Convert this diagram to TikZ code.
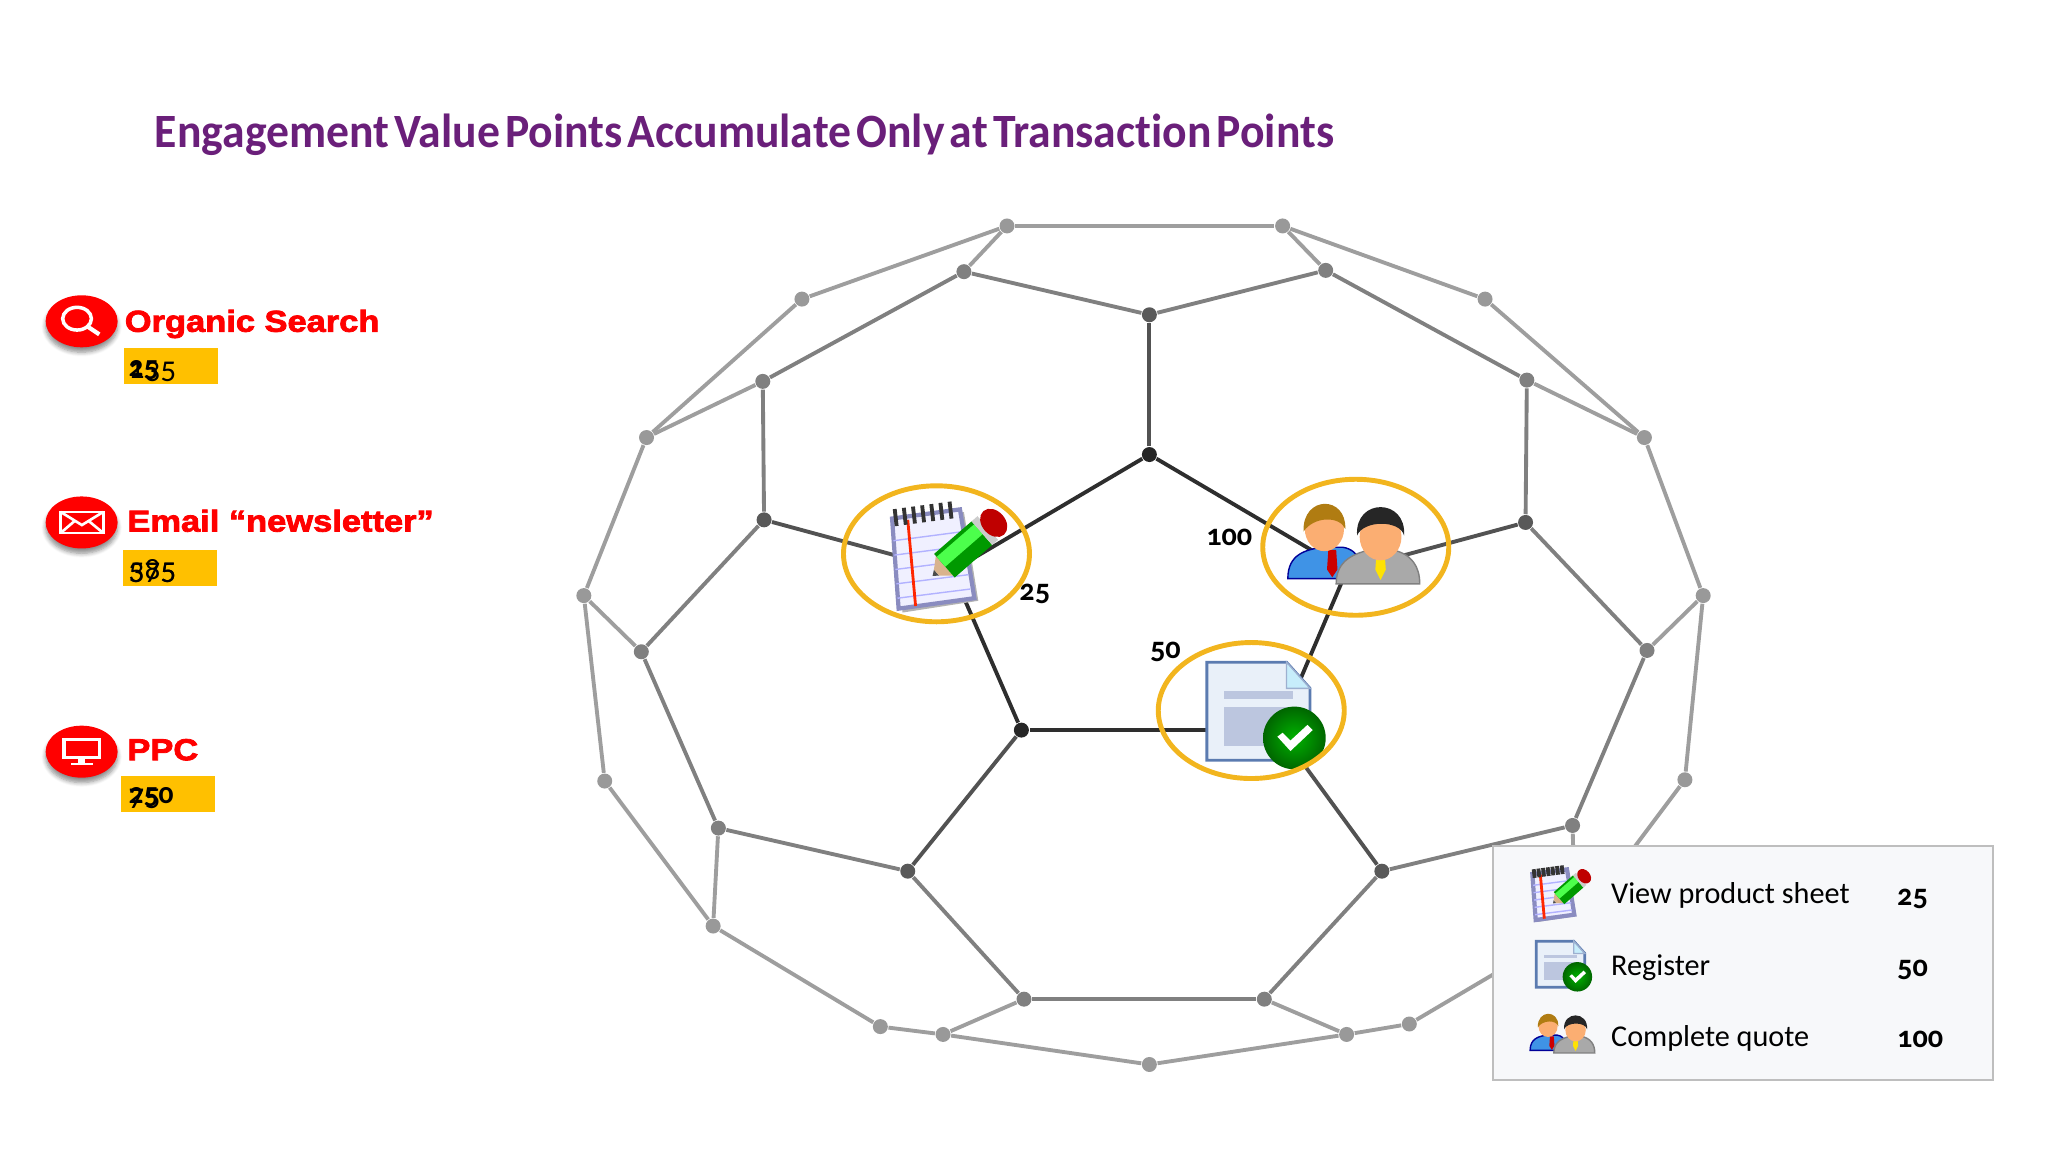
\documentclass[tikz,border=0pt]{standalone}
\usepackage{fontspec}
\setmainfont{Carlito}[Numbers=OldStyle]
\newfontfamily\titlefont{Carlito Bold}[FakeStretch=0.955,WordSpace=0.5,Ligatures=NoCommon]
\newfontfamily\heavyfont{Liberation Sans Bold}[FakeBold=2.6,FakeStretch=1.14]
\usetikzlibrary{shapes.geometric,shadows.blur}

\definecolor{titlepurple}{HTML}{6A1F7A}
\definecolor{ringyellow}{HTML}{F2B51E}
\definecolor{boxyellow}{HTML}{FFC000}
\definecolor{iconred}{HTML}{FF0000}
\definecolor{legendfill}{HTML}{F7F8FA}
\definecolor{legendline}{HTML}{BEBEBE}
\definecolor{skin}{HTML}{FBAE72}
\definecolor{suitblue}{HTML}{3F93E6}
\definecolor{suitgray}{HTML}{A9A9A9}
\definecolor{hairbrown}{HTML}{B07C12}
\definecolor{docbar}{HTML}{BCC6DF}
\definecolor{docedge}{HTML}{5B7BB0}
\definecolor{docfill}{HTML}{E9F0F9}
\definecolor{nbedge}{HTML}{8A8CC0}

\tikzset{
    edgeA/.style={draw=black!82,line width=1.1pt},
    edgeB/.style={draw=black!68,line width=1.1pt},
    edgeC/.style={draw=black!50,line width=1.1pt},
    edgeD/.style={draw=black!38,line width=1.1pt},
    vert/.style={circle,inner sep=0pt,minimum size=0.15cm},
    hilite/.style={ellipse,draw=ringyellow,line width=1.4pt,inner sep=0pt,minimum width=1.86cm,minimum height=1.36cm},
    redicon/.style={ellipse,fill=iconred,inner sep=0pt,minimum width=0.72cm,minimum height=0.52cm,
        blur shadow={shadow blur steps=6,shadow xshift=0pt,shadow yshift=-1.4pt,shadow blur radius=1.2pt,shadow opacity=45}},
    iconline/.style={draw=white,line width=0.75pt},
    sourcelabel/.style={anchor=base west,inner sep=0pt,text=iconred,font=\heavyfont\fontsize{8.6}{10}\selectfont},
    scorebox/.style={fill=boxyellow,inner sep=0pt,minimum width=0.94cm,minimum height=0.36cm},
    scoretext/.style={anchor=base west,inner sep=0pt,font=\fontsize{8.9}{10}\selectfont},
    scorebold/.style={scoretext,font=\bfseries\fontsize{8.4}{10}\selectfont},
    pointlabel/.style={anchor=base west,inner sep=0pt,font=\bfseries\fontsize{8.6}{10}\selectfont},
    legendtext/.style={anchor=base west,inner sep=0pt,font=\fontsize{8.6}{10}\selectfont},
    pics/notebook/.style={code={
        \fill[black!30] (-27,-29) -- (26,-36) -- (37,32) -- (-21,41) -- cycle;
        \filldraw[draw=nbedge,line width=1.2pt,fill=blue!6] (-29,-31) -- (23,-38) -- (34,30) -- (-24,38) -- cycle;
        \foreach \y in {-14,-3,8,19,30}
            \draw[blue!30,line width=0.4pt] (-27+\y/14,\y) -- (27+\y/8,\y-7);
        \draw[red!70!orange,line width=0.8pt] (-17,-30) -- (-11,36);
        \foreach \x in {-27,-20,-13,-6,1,8,15}
            \draw[black!80,line width=1.1pt] (\x,{-38-(\x+29)*.135}) -- ++(1.5,13);
        \begin{scope}[shift={(2,13)},rotate=41]
            \fill[black!70] (0,0) -- (4,-3) -- (4,3) -- cycle;
            \fill[orange!35!white!85!black] (4,-3) -- (12,-10) -- (12,10) -- (4,3) -- cycle;
            \fill[green!60!black] (12,-12) rectangle (50,12);
            \fill[green!70!white] (12,-9) rectangle (50,1);
            \fill[black!20] (50,-12) rectangle (56,12);
            \fill[red!75!black] (62,0) ellipse (9 and 12);
        \end{scope}
    }},
    pics/regdoc/.style={code={
        \filldraw[draw=docedge,line width=0.8pt,fill=docfill] (-40,-37) -- (21,-37) -- (39,-17) -- (39,38) -- (-40,38) -- cycle;
        \filldraw[draw=docedge!60,line width=0.4pt,fill=cyan!22] (21,-37) -- (39,-17) -- (21,-17) -- cycle;
        \fill[docbar] (-27,-15) rectangle (26,-9);
        \fill[docbar] (-27,-3) rectangle (26,27);
        \shade[inner color=green!70!black,outer color=green!40!black] (27,21) circle (24);
        \fill[white] (14,20) -- (18,17) -- (24,23) -- (37,11) -- (41,15) -- (24,31) -- cycle;
    }},
    pics/quotepeople/.style={code={
        \filldraw[draw=blue!60!black,line width=0.4pt,fill=suitblue] (-50,27) .. controls (-50,8) and (-36,5) .. (-24,3) -- (-8,3) .. controls (6,5) and (8,20) .. (8,27) -- cycle;
        \fill[red!80!black] (-19,5) -- (-13,5) -- (-12,20) -- (-16,26) -- (-20,20) -- cycle;
        \fill[skin] (-22,-11) ellipse (15 and 17);
        \fill[hairbrown] (-38,-9) .. controls (-39,-37) and (-5,-37) .. (-6,-11) .. controls (-10,-21) and (-30,-21) .. cycle;
        \filldraw[draw=black!50,line width=0.4pt,fill=suitgray] (-13,31) .. controls (-13,12) and (2,8) .. (12,5) -- (30,5) .. controls (45,8) and (51,18) .. (51,31) -- cycle;
        \fill[yellow!85!orange] (18,6) -- (24,6) -- (25,20) -- (21,28) -- (17,20) -- cycle;
        \fill[skin] (21,-5) ellipse (16 and 18);
        \fill[black!85] (3,-6) .. controls (1,-35) and (41,-35) .. (39,-6) .. controls (36,-18) and (8,-18) .. cycle;
    }}
}

\begin{document}
\begin{tikzpicture}[x=0.0130612cm,y=-0.0130612cm]
    \useasboundingbox (0,0) rectangle (1568,882);

    \node[anchor=base west,inner sep=0pt,text=titlepurple,font=\titlefont\fontsize{13.6}{16}\selectfont] (title) at (118,113)
        {Engagement Value Points Accumulate Only at Transaction Points};

    % outer ring
    \foreach \name/\x/\y in {oa/771/173,ob/982/173,oc/1137/229,od/1259/335,oe/1304/456,of/1290/597,
        oh/1079/784,oi/1031/792,oj/880/815,ok/722/792,ol/674/786,om/546/709,on/463/598,oo/447/456,op/495/335,oq/614/229}
        \node[vert,fill=black!40] (\name) at (\x,\y) {};
    \coordinate (og) at (1206,709);

    \foreach \name/\x/\y in {sa/738/208,sb/1015/207,sc/1169/291,sd/1261/498,se/1204/632,sf/968/765,sg/784/765,sh/550/634,si/491/499,sj/584/292}
        \node[vert,fill=black!50] (\name) at (\x,\y) {};
    \foreach \name/\x/\y in {ta/880/241,tb/1168/400,tc/1058/667,td/695/667,te/585/398}
        \node[vert,fill=black!65] (\name) at (\x,\y) {};

    % inner pentagon
    \node[vert,fill=black!85] (pa) at (880,348) {};
    \node[vert,fill=black!85] (pd) at (782,559) {};
    \coordinate (pb) at (1031,437);
    \coordinate (pc) at (979,559);
    \coordinate (pe) at (729,437);

    \foreach \a/\b in {oa/ob,ob/oc,oc/od,od/oe,oe/of,of/og,og/oh,oh/oi,oi/oj,oj/ok,ok/ol,ol/om,om/on,on/oo,oo/op,op/oq,oq/oa,
        oa/sa,ob/sb,od/sc,oe/sd,og/se,oi/sf,ok/sg,om/sh,oo/si,op/sj}
        \draw[edgeD] (\a) -- (\b);
    \foreach \a/\b in {sa/sj,sb/sc,sd/se,sf/sg,ta/sa,ta/sb,tb/sc,tb/sd,tc/se,tc/sf,td/sg,td/sh,te/si,te/sj,si/sh}
        \draw[edgeC] (\a) -- (\b);
    \foreach \a/\b in {pa/ta,pb/tb,pc/tc,pd/td,pe/te}
        \draw[edgeB] (\a) -- (\b);
    \foreach \a/\b in {pa/pb,pb/pc,pc/pd,pd/pe,pe/pa}
        \draw[edgeA] (\a) -- (\b);

    % transaction points
    \pic at (712,428) {notebook};
    \pic at (964,544) {regdoc};
    \pic at (1036,416) {quotepeople};
    \node[hilite] (sheetring) at (717,424) {};
    \node[hilite] (quotering) at (1038,419) {};
    \node[hilite] (regring) at (958,544) {};

    \node[pointlabel] (sheetpts) at (780,460) {25};
    \node[pointlabel] (quotepts) at (923,418) {100};
    \node[pointlabel] (regpts) at (880,504) {50};

    % sources
    \node[redicon] (search) at (62.5,246) {};
    \draw[iconline,line width=1pt] (59,244) ellipse (11 and 8.7);
    \draw[iconline,line width=1.2pt] (67,250) -- (76,256);
    \node[sourcelabel] (searchlabel) at (95,254) {Organic Search};

    \node[redicon] (email) at (62.5,400) {};
    \draw[iconline] (46.5,392) rectangle (79,408);
    \draw[iconline] (46.5,392) -- (62.7,402) -- (79,392);
    \draw[iconline] (46.5,408) -- (57,399);
    \draw[iconline] (79,408) -- (68,399);
    \node[sourcelabel] (emaillabel) at (97,407) {Email “newsletter”};

    \node[redicon] (ppc) at (62.5,575.5) {};
    \draw[iconline,line width=1pt] (49,566) rectangle (76,580);
    \fill[white] (60,581) rectangle (65,584);
    \fill[white] (54,584) rectangle (71,586);
    \node[sourcelabel] (ppclabel) at (97,582) {PPC};

    \node[scorebox] (searchbox) at (131,280.5) {};
    \node[scorebox] (emailbox) at (130,435) {};
    \node[scorebox] (ppcbox) at (128.8,608) {};

    \node[scoretext] (searchnew) at (98,290) {135};
    \node[scorebold] (searchold) at (98,288) {25};
    \node[scoretext] (emailnew) at (98,444) {375};
    \node[scoretext] (emailold) at (98,444) {585};
    \node[scoretext] (ppcnew) at (98,617) {75};
    \node[scorebold] (ppcold) at (98,615) {250};

    % legend
    \node[draw=legendline,fill=legendfill,line width=0.5pt,inner sep=0pt,minimum width=5cm,minimum height=2.338cm] (legend) at (1334.5,737.5) {};
    \pic[scale=0.51] at (1188,685) {notebook};
    \pic[scale=0.47] at (1195,738) {regdoc};
    \pic[scale=0.49] at (1196,791) {quotepeople};
    \foreach \name/\y/\txt/\val in {sheet/692/View product sheet/25,reg/747/Register/50,quote/801/Complete quote/100} {
        \node[legendtext] (\name text) at (1233,\y) {\txt};
        \node[pointlabel] (\name val) at (1452,\y+1) {\val};
    }
\end{tikzpicture}
\end{document}
